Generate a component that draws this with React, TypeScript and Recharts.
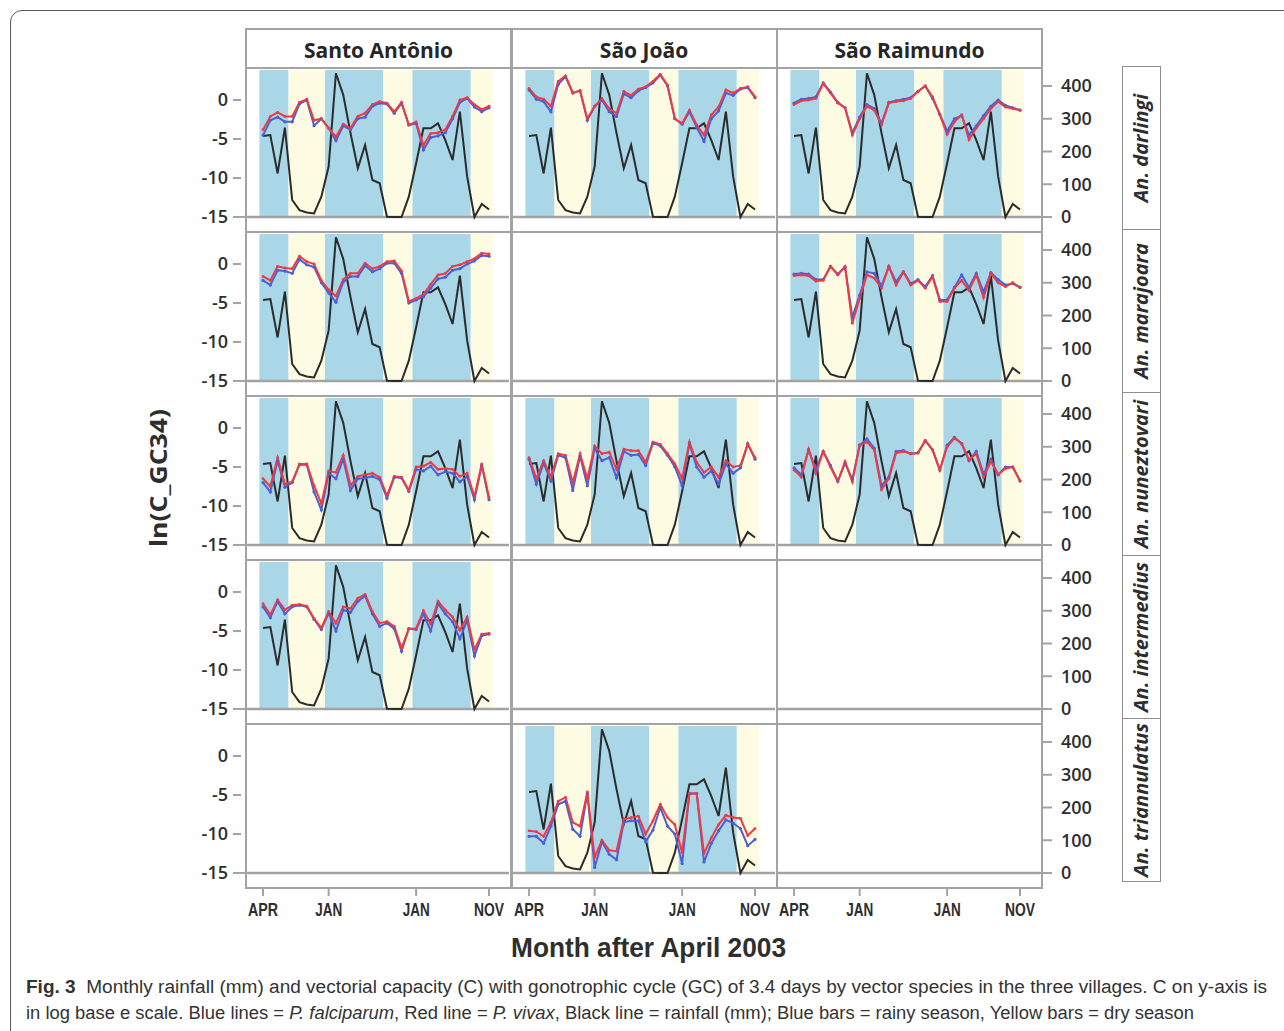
import React from 'react';
import { ComposedChart, Line, XAxis, YAxis, ReferenceArea, ReferenceLine } from 'recharts';

// months after April 2003 (x index 0..31)
const months = [
  'Apr 2003', 'May 2003', 'Jun 2003', 'Jul 2003', 'Aug 2003', 'Sep 2003', 'Oct 2003', 'Nov 2003', 'Dec 2003',
  'Jan 2004', 'Feb 2004', 'Mar 2004', 'Apr 2004', 'May 2004', 'Jun 2004', 'Jul 2004', 'Aug 2004', 'Sep 2004',
  'Oct 2004', 'Nov 2004', 'Dec 2004',
  'Jan 2005', 'Feb 2005', 'Mar 2005', 'Apr 2005', 'May 2005', 'Jun 2005', 'Jul 2005', 'Aug 2005', 'Sep 2005',
  'Oct 2005', 'Nov 2005',
];
const xTicks = [0, 9, 21, 31];
const xTickLabels = ['APR', 'JAN', 'JAN', 'NOV'];
const cTicks = [0, -5, -10, -15];
const rainTicks = [0, 100, 200, 300, 400];

const villages = ['Santo Antônio', 'São João', 'São Raimundo'];
const species = ['An. darlingi', 'An. marajoara', 'An. nuneztovari', 'An. intermedius', 'An. triannulatus'];

// season bands (month index edges)
const seasonStart = [-0.5, 3.5, 8.5, 16.5, 20.5, 28.5];
const seasonEnd = [3.5, 8.5, 16.5, 20.5, 28.5, 31.5];
const seasonType = ['rainy', 'dry', 'rainy', 'dry', 'rainy', 'dry'];

// monthly rainfall (mm)
const rainfall = [247, 250, 133, 273, 52, 21, 14, 11, 62, 154, 439, 373, 256, 149, 220, 113, 103, 1, 0, 0, 62, 164, 271, 271, 286, 235, 174, 322, 123, 0, 40, 23];

// ln(C) : Pf = P. falciparum (blue), Pv = P. vivax (red)
const saDarlingiPf = [-4.5, -2.6, -2.2, -2.8, -2.8, -0.5, 0.0, -3.3, -2.4, -3.6, -5.2, -3.3, -3.8, -2.4, -2.2, -0.8, -0.4, -0.5, -1.7, -0.4, -3.2, -3.0, -6.4, -4.8, -4.6, -4.2, -2.4, -0.3, 0.2, -0.9, -1.5, -1.0];
const saDarlingiPv = [-3.8, -2.1, -1.6, -2.1, -2.1, -0.3, 0.1, -2.6, -2.4, -3.6, -4.7, -3.1, -3.6, -2.1, -1.7, -0.6, -0.2, -0.4, -1.5, -0.3, -3.2, -2.8, -5.8, -4.3, -4.2, -3.8, -2.1, 0.0, 0.3, -0.6, -1.2, -0.8];
const sjDarlingiPf = [1.3, 0.1, -0.2, -1.5, 2.0, 3.0, 0.9, 1.2, -2.6, -0.8, 0.0, -1.5, -2.1, 0.8, 0.3, 1.2, 1.6, 2.2, 3.2, 1.8, -2.4, -3.1, -1.5, -3.5, -5.3, -2.4, -1.4, 0.9, 0.6, 1.4, 1.6, 0.3];
const sjDarlingiPv = [1.5, 0.4, 0.1, -0.8, 2.4, 3.1, 0.9, 1.2, -2.4, -0.8, 0.2, -1.1, -1.7, 1.1, 0.6, 1.4, 1.7, 2.4, 3.3, 1.9, -2.4, -3.0, -1.3, -3.2, -4.5, -1.9, -0.9, 1.3, 0.9, 1.5, 1.7, 0.4];
const srDarlingiPf = [-0.4, 0.1, 0.2, 0.4, 2.2, 1.0, -0.3, -1.0, -4.2, -2.2, -0.6, -1.1, -3.0, -0.3, -0.1, 0.1, 0.3, 1.1, 1.8, 0.2, -1.8, -4.0, -2.4, -2.0, -4.5, -3.3, -2.0, -0.8, 0.0, -0.7, -1.0, -1.3];
const srDarlingiPv = [-0.6, -0.1, 0.0, 0.2, 2.1, 0.9, -0.4, -1.0, -4.5, -2.4, -0.8, -1.3, -3.2, -0.4, -0.2, -0.1, 0.2, 1.1, 1.8, 0.4, -1.9, -4.4, -2.8, -1.9, -5.1, -3.6, -2.4, -1.1, -0.2, -0.9, -1.1, -1.3];
const saMarajoaraPf = [-2.1, -2.7, -0.8, -0.9, -1.2, 0.6, -0.1, -0.4, -2.4, -3.7, -4.9, -2.3, -1.6, -1.6, -0.2, -1.0, -0.6, 0.1, 0.1, -1.2, -5.0, -4.6, -4.2, -3.1, -1.9, -1.7, -0.8, -0.6, 0.0, 0.4, 1.1, 1.0];
const saMarajoaraPv = [-1.6, -2.1, -0.3, -0.5, -0.6, 1.0, 0.3, 0.0, -2.1, -3.3, -4.1, -2.0, -1.2, -1.2, 0.1, -0.6, -0.3, 0.3, 0.4, -0.9, -4.8, -4.4, -3.9, -2.6, -1.4, -1.2, -0.3, -0.1, 0.3, 0.7, 1.4, 1.3];
const srMarajoaraPf = [-1.3, -1.2, -1.3, -2.0, -2.0, -0.3, -1.3, -0.4, -6.8, -4.0, -1.0, -1.2, -2.8, -0.3, -2.3, -1.0, -2.5, -2.0, -2.9, -1.5, -4.6, -4.6, -3.0, -1.4, -3.0, -1.2, -3.6, -1.1, -2.0, -2.7, -2.5, -3.0];
const srMarajoaraPv = [-1.5, -1.4, -1.5, -2.2, -2.1, -0.3, -1.4, -0.3, -7.6, -4.4, -1.4, -1.8, -3.1, -0.3, -2.7, -1.0, -2.7, -2.1, -3.1, -1.6, -4.8, -4.8, -3.1, -2.1, -3.4, -1.4, -4.3, -1.2, -2.4, -2.9, -2.4, -3.0];
const saNuneztovariPf = [-7.0, -8.2, -4.2, -7.6, -7.0, -4.7, -4.7, -8.2, -10.5, -5.8, -6.5, -4.0, -8.0, -6.5, -6.4, -6.2, -6.6, -9.0, -6.3, -6.4, -8.1, -5.3, -5.5, -4.9, -6.0, -5.6, -5.8, -6.9, -6.2, -9.2, -4.8, -9.2];
const saNuneztovariPv = [-6.5, -7.5, -3.8, -7.2, -6.9, -4.6, -4.6, -7.4, -9.7, -5.5, -5.7, -3.5, -7.4, -6.2, -6.0, -5.8, -6.3, -8.7, -6.2, -6.3, -8.0, -5.0, -4.9, -4.4, -5.3, -5.2, -5.3, -6.2, -5.8, -8.8, -4.6, -8.9];
const sjNuneztovariPf = [-4.0, -7.2, -4.5, -6.8, -3.5, -3.8, -8.0, -3.6, -7.4, -2.6, -4.2, -3.8, -6.4, -3.0, -3.5, -3.4, -4.8, -1.9, -2.3, -3.5, -5.0, -7.4, -2.0, -5.0, -6.3, -5.5, -7.2, -4.6, -5.8, -5.1, -2.0, -4.0];
const sjNuneztovariPv = [-3.8, -6.5, -4.2, -6.3, -3.3, -3.5, -7.0, -3.3, -6.5, -2.3, -3.3, -3.1, -5.3, -2.7, -2.9, -2.9, -4.4, -1.8, -2.1, -3.3, -4.6, -6.5, -1.8, -4.4, -5.7, -5.0, -6.3, -4.2, -5.0, -4.8, -2.1, -3.8];
const srNuneztovariPf = [-5.1, -6.0, -2.8, -5.3, -3.0, -4.8, -6.8, -4.5, -6.6, -2.2, -1.4, -2.6, -7.4, -6.3, -3.0, -2.9, -3.3, -3.2, -1.6, -2.8, -5.4, -2.2, -1.2, -2.0, -4.2, -3.0, -5.9, -4.0, -6.0, -5.0, -5.0, -6.8];
const srNuneztovariPv = [-5.4, -6.3, -2.7, -5.8, -3.0, -5.0, -6.9, -4.3, -6.9, -2.2, -1.8, -2.8, -7.9, -6.5, -3.2, -3.0, -3.3, -3.2, -1.6, -2.8, -5.4, -2.4, -1.3, -2.0, -4.1, -3.3, -6.3, -4.3, -6.0, -5.2, -5.0, -6.8];
const saIntermediusPf = [-1.9, -3.3, -1.2, -2.8, -1.9, -1.7, -1.9, -3.5, -4.8, -2.7, -5.0, -2.3, -2.6, -1.2, -0.5, -2.8, -4.4, -4.0, -4.7, -7.6, -4.7, -4.8, -2.8, -5.0, -1.5, -2.8, -3.8, -6.0, -3.6, -8.2, -5.6, -5.4];
const saIntermediusPv = [-1.5, -2.9, -1.0, -2.3, -1.7, -1.6, -1.8, -3.4, -4.6, -2.5, -4.0, -1.9, -2.1, -0.8, -0.3, -2.5, -4.0, -3.8, -4.4, -7.2, -4.7, -4.7, -2.4, -4.1, -1.2, -2.3, -3.2, -4.9, -3.2, -7.4, -5.4, -5.3];
const sjTriannulatusPf = [-10.3, -10.3, -11.2, -9.0, -6.2, -5.8, -9.4, -10.3, -4.8, -14.3, -11.0, -12.6, -13.3, -8.5, -8.3, -8.3, -11.0, -9.5, -6.6, -9.0, -10.0, -13.8, -4.8, -4.8, -13.6, -11.2, -9.6, -8.2, -8.6, -9.3, -11.5, -10.7];
const sjTriannulatusPv = [-9.6, -9.7, -10.3, -8.5, -5.8, -5.3, -8.5, -9.0, -4.6, -13.0, -10.8, -12.1, -12.2, -8.1, -7.9, -7.7, -10.0, -8.3, -6.2, -7.9, -8.8, -12.4, -4.8, -4.8, -12.5, -10.5, -8.8, -7.6, -7.9, -8.0, -10.2, -9.3];

const panels = [
  { row: 0, col: 0, pf: saDarlingiPf, pv: saDarlingiPv },
  { row: 0, col: 1, pf: sjDarlingiPf, pv: sjDarlingiPv },
  { row: 0, col: 2, pf: srDarlingiPf, pv: srDarlingiPv },
  { row: 1, col: 0, pf: saMarajoaraPf, pv: saMarajoaraPv },
  { row: 1, col: 2, pf: srMarajoaraPf, pv: srMarajoaraPv },
  { row: 2, col: 0, pf: saNuneztovariPf, pv: saNuneztovariPv },
  { row: 2, col: 1, pf: sjNuneztovariPf, pv: sjNuneztovariPv },
  { row: 2, col: 2, pf: srNuneztovariPf, pv: srNuneztovariPv },
  { row: 3, col: 0, pf: saIntermediusPf, pv: saIntermediusPv },
  { row: 4, col: 1, pf: sjTriannulatusPf, pv: sjTriannulatusPv },
];

// layout
const PLOT_X0 = 247;
const COL_STEP = 265.5;
const ROW_Y0 = 68;
const ROW_STEP = 164;
const PLOT_W = 262;
const PLOT_H = 161;
const C_DOMAIN: [number, number] = [-16.8, 3.85];
const RAIN_DOMAIN: [number, number] = [-42.75, 448.85];

const BORDER = '#a3a3a3';
const TEXT = '#2e2e2e';
const NUM_FONT = '"Open Sans", "DejaVu Sans", sans-serif';
const NARROW_FONT = '"Liberation Sans", Arial, sans-serif';

const bandColor: Record<string, string> = { rainy: '#a9d7e8', dry: '#fdfbe1' };

const LeftTick = (props: any) => {
  const { x, y, payload } = props;
  const v = payload.value;
  return (
    <g>
      <line x1={x - 14} x2={v === -15 ? x : x - 6} y1={y} y2={y} stroke={BORDER} strokeWidth={2} />
      <text x={x - 19} y={y} dy="0.36em" textAnchor="end" fontSize={18} fontWeight={600} fill={TEXT} fontFamily={NUM_FONT}>
        {v}
      </text>
    </g>
  );
};

const RightTick = (props: any) => {
  const { x, y, payload } = props;
  const v = payload.value;
  return (
    <g>
      <line x1={v === 0 ? x : x + 2} x2={x + 12} y1={y} y2={y} stroke={BORDER} strokeWidth={2} />
      <text x={x + 21} y={y} dy="0.36em" textAnchor="start" fontSize={18} fontWeight={600} fill={TEXT} fontFamily={NUM_FONT}>
        {v}
      </text>
    </g>
  );
};

const MonthTick = (props: any) => {
  const { x, y, payload } = props;
  const label = xTickLabels[xTicks.indexOf(payload.value)];
  return (
    <g>
      <line x1={x} x2={x} y1={y + 1} y2={y + 9} stroke={BORDER} strokeWidth={2} />
      <text x={x} y={y + 29} textAnchor="middle" fontSize={19} fontWeight={700} fill={TEXT} fontFamily={NARROW_FONT}
        textLength={label === 'JAN' ? 27 : 30} lengthAdjust="spacingAndGlyphs">
        {label}
      </text>
    </g>
  );
};

type PanelProps = { row: number; col: number; pf?: number[]; pv?: number[] };

function Panel({ row, col, pf, pv }: PanelProps) {
  const bottom = row === species.length - 1;
  const leftW = col === 0 ? 80 : 0;
  const rightW = col === 2 ? 80 : 0;
  // room for the outer month labels on the bottom row
  const padL = bottom && col !== 0 ? 24 : 0;
  const padR = bottom && col !== 2 ? 24 : 0;
  const bottomH = bottom ? 40 : 0;
  const hasData = !!pf && !!pv;
  const data = months.map((label, i) => ({
    m: i,
    label,
    rain: hasData ? rainfall[i] : null,
    pf: hasData ? pf![i] : null,
    pv: hasData ? pv![i] : null,
  }));
  return (
    <div style={{ position: 'absolute', left: PLOT_X0 + col * COL_STEP - leftW - padL, top: ROW_Y0 + row * ROW_STEP + 2 }}>
      <ComposedChart width={PLOT_W + leftW + rightW + padL + padR} height={PLOT_H + bottomH} data={data}
        margin={{ top: 0, right: padR, bottom: 0, left: padL }}>
        <XAxis dataKey="m" type="number" domain={[-2.2, 33.74]} ticks={xTicks} interval={0} hide={!bottom}
          height={40} axisLine={false} tickLine={false} tickSize={0} tickMargin={0} tick={<MonthTick />} allowDataOverflow />
        <YAxis yAxisId="c" orientation="left" domain={C_DOMAIN} ticks={cTicks} interval={0} hide={col !== 0}
          width={80} axisLine={false} tickLine={false} tickSize={0} tickMargin={0} tick={<LeftTick />} allowDataOverflow />
        <YAxis yAxisId="rain" orientation="right" domain={RAIN_DOMAIN} ticks={rainTicks} interval={0} hide={col !== 2}
          width={80} axisLine={false} tickLine={false} tickSize={0} tickMargin={0} tick={<RightTick />} allowDataOverflow />
        {hasData &&
          seasonStart.map((s, i) => (
            <ReferenceArea key={i} yAxisId="c" x1={s} x2={seasonEnd[i]} y1={-15} y2={C_DOMAIN[1]}
              fill={bandColor[seasonType[i]]} fillOpacity={1} stroke="none" ifOverflow="extendDomain" />
          ))}
        <ReferenceLine yAxisId="c" y={-15} stroke={BORDER} strokeWidth={2.5} />
        {hasData && (
          <Line yAxisId="rain" dataKey="rain" type="linear" stroke="#2b2b2b" strokeWidth={2} dot={false} isAnimationActive={false} />
        )}
        {hasData && (
          <Line yAxisId="c" dataKey="pf" type="linear" stroke="#4d5fd4" strokeWidth={2}
            dot={{ r: 1.6, fill: '#4d5fd4', stroke: 'none' }} isAnimationActive={false} />
        )}
        {hasData && (
          <Line yAxisId="c" dataKey="pv" type="linear" stroke="#f03a3f" strokeWidth={2}
            dot={{ r: 1.4, fill: '#f03a3f', stroke: 'none' }} isAnimationActive={false} />
        )}
      </ComposedChart>
    </div>
  );
}

export default function App() {
  const cells: PanelProps[] = [];
  for (let r = 0; r < species.length; r++) {
    for (let c = 0; c < villages.length; c++) {
      const p = panels.find((q) => q.row === r && q.col === c);
      cells.push(p ? p : { row: r, col: c });
    }
  }
  return (
    <div style={{ position: 'absolute', left: 0, top: 0, width: 1284, height: 1031, overflow: 'hidden', background: '#fff' }}>
      <div style={{ position: 'absolute', left: 10, top: 10, width: 1300, height: 1100, border: '1.5px solid #5a5a5a', borderRadius: 12 }} />

      {cells.map((p) => (
        <Panel key={`${p.row}-${p.col}`} {...p} />
      ))}

      {/* facet frames */}
      {villages.map((v, c) => (
        <div key={v} style={{ position: 'absolute', left: 245 + c * COL_STEP, top: 28, width: 267, height: 861, border: `2px solid ${BORDER}`, boxSizing: 'border-box' }}>
          <div style={{ position: 'absolute', left: 0, right: 0, top: 1, height: 38, lineHeight: '38px', textAlign: 'center', fontFamily: NUM_FONT, fontWeight: 700, fontSize: 21, color: '#262626' }}>
            {v}
          </div>
        </div>
      ))}
      {species.map((s, r) => (
        <div key={s} style={{ position: 'absolute', left: 245, top: 67 + r * ROW_STEP, width: 797, height: 2, background: BORDER }} />
      ))}
      {species.map((s, r) => (
        <div key={`b-${s}`} style={{ position: 'absolute', left: 1122, top: 66 + r * 163, width: 39, height: 164, border: '1.5px solid #8e8e8e', boxSizing: 'border-box' }} />
      ))}

      <svg width={1284} height={1031} style={{ position: 'absolute', left: 0, top: 0 }}>
        {species.map((s, r) => (
          <text key={s} transform={`translate(1148, ${66 + r * 163 + 82}) rotate(-90)`} textAnchor="middle"
            fontFamily={NUM_FONT} fontWeight={700} fontStyle="italic" fontSize={20} fill={TEXT}>
            {s}
          </text>
        ))}
        <text transform="translate(167, 478) rotate(-90)" textAnchor="middle" fontFamily={NUM_FONT} fontWeight={700}
          fontSize={24} fill={TEXT} textLength={138} lengthAdjust="spacingAndGlyphs">
          ln(C_GC34)
        </text>
        <text x={511} y={957} fontFamily={NARROW_FONT} fontWeight={700} fontSize={28} fill={TEXT}
          textLength={275} lengthAdjust="spacingAndGlyphs">
          Month after April 2003
        </text>
        <text x={26} y={993} fontFamily={NARROW_FONT} fontSize={18} fill="#333" textLength={1241} lengthAdjust="spacingAndGlyphs">
          <tspan fontWeight={700}>Fig. 3</tspan>
          <tspan dx={10}>Monthly rainfall (mm) and vectorial capacity (C) with gonotrophic cycle (GC) of 3.4 days by vector species in the three villages. C on y-axis is</tspan>
        </text>
        <text x={26} y={1019} fontFamily={NARROW_FONT} fontSize={18} fill="#333" textLength={1168} lengthAdjust="spacingAndGlyphs">
          in log base e scale. Blue lines = <tspan fontStyle="italic">P. falciparum</tspan>, Red line = <tspan fontStyle="italic">P. vivax</tspan>, Black line = rainfall (mm); Blue bars = rainy season, Yellow bars = dry season
        </text>
      </svg>
    </div>
  );
}
